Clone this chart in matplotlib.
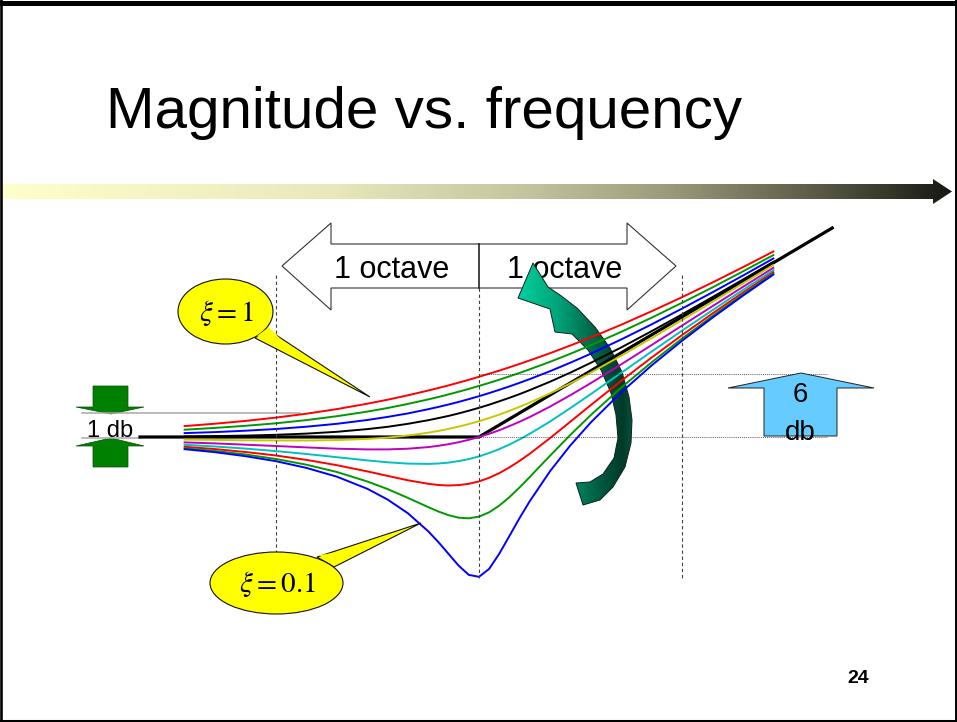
import numpy as np
import matplotlib.pyplot as plt
from matplotlib.patches import Polygon, Ellipse
from matplotlib.colors import LinearSegmentedColormap

plt.rcParams['font.family'] = ['Liberation Sans', 'DejaVu Sans']
plt.rcParams['mathtext.fontset'] = 'stix'

# %% DATA  (x in octaves around the corner frequency, y in dB)
octaves = [-1.45, -1.3, -1.15, -1.0, -0.85, -0.7, -0.55, -0.45, -0.35, -0.25, -0.2, -0.15, -0.1, -0.05,
           0.0, 0.05, 0.1, 0.15, 0.2, 0.25, 0.35, 0.45, 0.55, 0.7, 0.85, 1.0, 1.15, 1.3, 1.45]

mag_z10 = [1.09, 1.33, 1.61, 1.94, 2.33, 2.79, 3.33, 3.73, 4.17, 4.65, 4.90, 5.16, 5.44, 5.72,
           6.02, 6.33, 6.64, 6.97, 7.31, 7.66, 8.38, 9.15, 9.95, 11.22, 12.57, 13.98, 15.45, 16.98, 18.55]
mag_z09 = [0.73, 0.91, 1.12, 1.37, 1.69, 2.08, 2.54, 2.90, 3.31, 3.76, 4.00, 4.26, 4.53, 4.81,
           5.11, 5.41, 5.73, 6.07, 6.41, 6.77, 7.52, 8.32, 9.17, 10.51, 11.93, 13.42, 14.96, 16.56, 18.19]
mag_z08 = [0.39, 0.49, 0.63, 0.80, 1.03, 1.32, 1.70, 2.01, 2.36, 2.78, 3.01, 3.25, 3.51, 3.79,
           4.08, 4.39, 4.72, 5.06, 5.42, 5.79, 6.58, 7.43, 8.32, 9.75, 11.26, 12.84, 14.47, 16.14, 17.85]
mag_z07 = [0.05, 0.09, 0.14, 0.22, 0.34, 0.52, 0.79, 1.02, 1.32, 1.68, 1.89, 2.11, 2.36, 2.63,
           2.92, 3.23, 3.57, 3.92, 4.29, 4.69, 5.53, 6.44, 7.41, 8.95, 10.58, 12.26, 13.99, 15.74, 17.51]
mag_z06 = [-0.26, -0.29, -0.33, -0.35, -0.35, -0.31, -0.19, -0.06, 0.15, 0.43, 0.61, 0.81, 1.04, 1.30,
           1.58, 1.90, 2.24, 2.62, 3.02, 3.44, 4.36, 5.36, 6.43, 8.12, 9.88, 11.69, 13.52, 15.36, 17.20]
mag_z05 = [-0.54, -0.64, -0.77, -0.90, -1.04, -1.17, -1.24, -1.24, -1.17, -1.01, -0.88, -0.72, -0.52, -0.28,
           0.00, 0.32, 0.68, 1.09, 1.53, 2.00, 3.04, 4.18, 5.38, 7.26, 9.19, 11.14, 13.08, 15.01, 16.92]
mag_z04 = [-0.78, -0.95, -1.16, -1.41, -1.70, -2.02, -2.34, -2.53, -2.66, -2.69, -2.65, -2.56, -2.41, -2.21,
           -1.94, -1.60, -1.21, -0.75, -0.24, 0.32, 1.55, 2.89, 4.28, 6.41, 8.54, 10.63, 12.68, 14.70, 16.68]
mag_z03 = [-0.98, -1.21, -1.50, -1.85, -2.29, -2.82, -3.44, -3.89, -4.33, -4.68, -4.80, -4.85, -4.81, -4.68,
           -4.44, -4.08, -3.61, -3.04, -2.39, -1.67, -0.11, 1.53, 3.18, 5.61, 7.94, 10.19, 12.35, 14.44, 16.48]
mag_z02 = [-1.13, -1.40, -1.75, -2.20, -2.77, -3.50, -4.45, -5.21, -6.09, -7.01, -7.45, -7.82, -8.07, -8.13,
           -7.96, -7.53, -6.86, -6.01, -5.04, -4.00, -1.87, 0.21, 2.18, 4.93, 7.46, 9.84, 12.09, 14.25, 16.33]
mag_z01 = [-1.22, -1.52, -1.92, -2.42, -3.09, -3.97, -5.18, -6.26, -7.63, -9.43, -10.51, -11.69, -12.87, -13.79,
           -13.98, -13.19, -11.67, -9.89, -8.10, -6.42, -3.42, -0.84, 1.44, 4.46, 7.15, 9.62, 11.93, 14.13, 16.24]

asym_oct = [-1.67, 0.0, 1.74]
asym_db = [0.0, 0.0, 20.9]

curves = [mag_z10, mag_z09, mag_z08, mag_z07, mag_z06, mag_z05, mag_z04, mag_z03, mag_z02, mag_z01]
curve_colors = ['#FF0000', '#009A00', '#0000FF', '#000000', '#C8C800',
                '#C000C0', '#00C0C0', '#FF0000', '#009A00', '#0000FF']

# %% FIGURE / pixel helper for the slide furniture
W, H = 957, 722
X0, Y0, SX, SY = 479.0, 437.0, 203.0, 10.0


def px(x, y):
    return ((x - X0) / SX, (Y0 - y) / SY)


def poly(points, **kw):
    return Polygon([px(x, y) for x, y in points], closed=True, **kw)


fig = plt.figure(figsize=(W / 100, H / 100), dpi=100)
ax = fig.add_axes([0, 0, 1, 1])
ax.set_axis_off()
xlim = (px(0, 0)[0], px(W, 0)[0])
ylim = (px(0, H)[1], px(0, 0)[1])

# slide border
fig.add_artist(plt.Line2D([0, 1], [1 - 2.5 / H, 1 - 2.5 / H], color='k', lw=3.6, transform=fig.transFigure))
fig.add_artist(plt.Line2D([1.3 / W, 1.3 / W], [0, 1], color='k', lw=1.9, transform=fig.transFigure))
fig.add_artist(plt.Line2D([0, 1], [1.5 / H, 1.5 / H], color='k', lw=2.2, transform=fig.transFigure))
fig.add_artist(plt.Line2D([1 - 1 / W, 1 - 1 / W], [0, 1], color='k', lw=1.4, transform=fig.transFigure))

# title + page number
fig.text(106 / W, 1 - 128 / H, 'Magnitude vs. frequency', fontsize=42, ha='left', va='baseline')
fig.text(858 / W, 1 - 683 / H, '24', fontsize=14, fontweight='bold', ha='center', va='baseline')

# gradient bar arrow under the title
bar_cmap = LinearSegmentedColormap.from_list(
    'bar', [(0, '#FFFFCC'), (0.35, '#E8E8BC'), (0.55, '#C4C49E'), (0.7, '#9C9C7C'),
            (0.85, '#5E5E4A'), (1.0, '#181812')])
bar = poly([(2, 184), (933, 184), (933, 179), (952, 191.5), (933, 204), (933, 199), (2, 199)],
           fc='none', ec='none')
ax.add_patch(bar)
l, t = px(2, 179)
r, b = px(952, 204)
im = ax.imshow(np.linspace(0, 1, 256).reshape(1, -1), cmap=bar_cmap, aspect='auto',
               extent=(l, r, b, t), origin='lower', zorder=1)
im.set_clip_path(bar)

# octave double arrow
ax.add_patch(poly([(282, 266), (331, 223), (331, 244), (627, 244), (627, 223), (676, 266),
                   (627, 310), (627, 288), (331, 288), (331, 310)],
                  fc='white', ec='#333333', lw=0.8, zorder=2))
ax.plot(*zip(px(479, 244), px(479, 288)), color='#222222', lw=1.2, zorder=2.1)
ax.text(*px(392, 278), '1 octave', fontsize=22, ha='center', va='baseline', zorder=2.2)
ax.text(*px(565, 278), '1 octave', fontsize=22, ha='center', va='baseline', zorder=2.2)

# curved teal arrow
teal_pts = [(533, 263), (518, 298), (550, 309), (555, 332), (572, 334), (588, 350), (601, 370),
            (611, 393), (616, 415), (618, 438), (614, 458), (603, 474), (590, 482),
            (576, 483), (583, 505), (600, 500), (613, 487), (625, 467), (631, 443), (632, 420),
            (629, 397), (622, 372), (610, 348), (595, 327), (577, 308), (560, 295), (548, 287)]
teal = poly(teal_pts, fc='none', ec='#10201a', lw=0.7, zorder=2.6)
ax.add_patch(teal)
teal_cmap = LinearSegmentedColormap.from_list(
    'teal', [(0, '#00D4A0'), (0.35, '#00A57A'), (0.7, '#005C42'), (0.9, '#003A28'), (1.0, '#0A5A44')])
l, t = px(515, 260)
r, b = px(635, 507)
im2 = ax.imshow(np.linspace(0, 1, 256).reshape(1, -1), cmap=teal_cmap, aspect='auto',
                extent=(l, r, b, t), origin='lower', zorder=2.5)
im2.set_clip_path(teal)

# reference lines
for xo, ytop in [(-1, 275), (0, 288), (1, 275)]:
    ax.plot([xo, xo], [px(0, ytop)[1], px(0, 578)[1]], color='#404040', lw=0.8,
            ls=(0, (3, 2.5)), zorder=5)
for yy in [374, 437]:
    ax.plot(*zip(px(479, yy), px(827, yy)), color='#303030', lw=0.6, ls=(0, (1, 1.3)), zorder=5)

# magnitude curves + asymptote
ax.plot(asym_oct, asym_db, color='k', lw=2.3, zorder=3.5, solid_joinstyle='miter')
for vals, c in zip(curves, curve_colors):
    ax.plot(octaves, vals, color=c, lw=1.4, zorder=4)

# 1 db marker
ax.plot(*zip(px(82, 413), px(300, 413)), color='#A8A8A8', lw=1.1, zorder=3)
ax.plot(*zip(px(82, 437.5), px(141, 437.5)), color='#A8A8A8', lw=1.1, zorder=3)
ax.add_patch(poly([(93, 386), (128, 386), (128, 407), (144, 407), (111, 414), (76, 407), (93, 407)],
                  fc='#008000', ec='#005000', lw=0.5, zorder=2.9))
ax.add_patch(poly([(111, 438), (144, 446), (128, 446), (128, 467), (93, 467), (93, 446), (76, 446)],
                  fc='#008000', ec='#005000', lw=0.5, zorder=2.9))
ax.text(*px(110, 437), '1 db', fontsize=17, ha='center', va='baseline', zorder=3.2)

# 6 db arrow
ax.add_patch(poly([(801, 373), (874, 388), (837, 388), (837, 436), (764, 436), (764, 388), (728, 388)],
                  fc='#66CCFF', ec='#222222', lw=0.7, zorder=5.5))
ax.text(*px(800, 402), '6', fontsize=20, ha='center', va='baseline', zorder=6)
ax.text(*px(800, 440), 'db', fontsize=20, ha='center', va='baseline', zorder=6)

# yellow callouts
for (cx, cy, w, h), base, tip, label in [
        ((225.5, 311.5, 95, 65), [(255, 338), (267, 329)], (370, 397), r'$\xi = 1$'),
        ((276.5, 583, 133, 62), [(317, 557), (334, 567)], (421, 523), r'$\xi = 0.1$')]:
    ax.add_patch(poly(base + [tip], fc='#FFFF00', ec='#111111', lw=0.8, zorder=6))
    ax.add_patch(Ellipse(px(cx, cy), w / SX, h / SY, fc='#FFFF00', ec='#111111', lw=0.8, zorder=6.1))
    (bx0, by0), (bx1, by1) = base
    mid = ((bx0 + bx1) / 2 * 0.7 + tip[0] * 0.3, (by0 + by1) / 2 * 0.7 + tip[1] * 0.3)
    ax.add_patch(poly([(bx0 + 2, by0 - 2), (bx1 + 2, by1 - 2), mid], fc='#FFFF00', ec='none', zorder=6.2))
    ax.text(*px(cx + 1, cy + 1), label, fontsize=21, ha='center', va='center', zorder=6.3)

ax.set_xlim(*xlim)
ax.set_ylim(*ylim)
fig.savefig('out.png', dpi=100)
